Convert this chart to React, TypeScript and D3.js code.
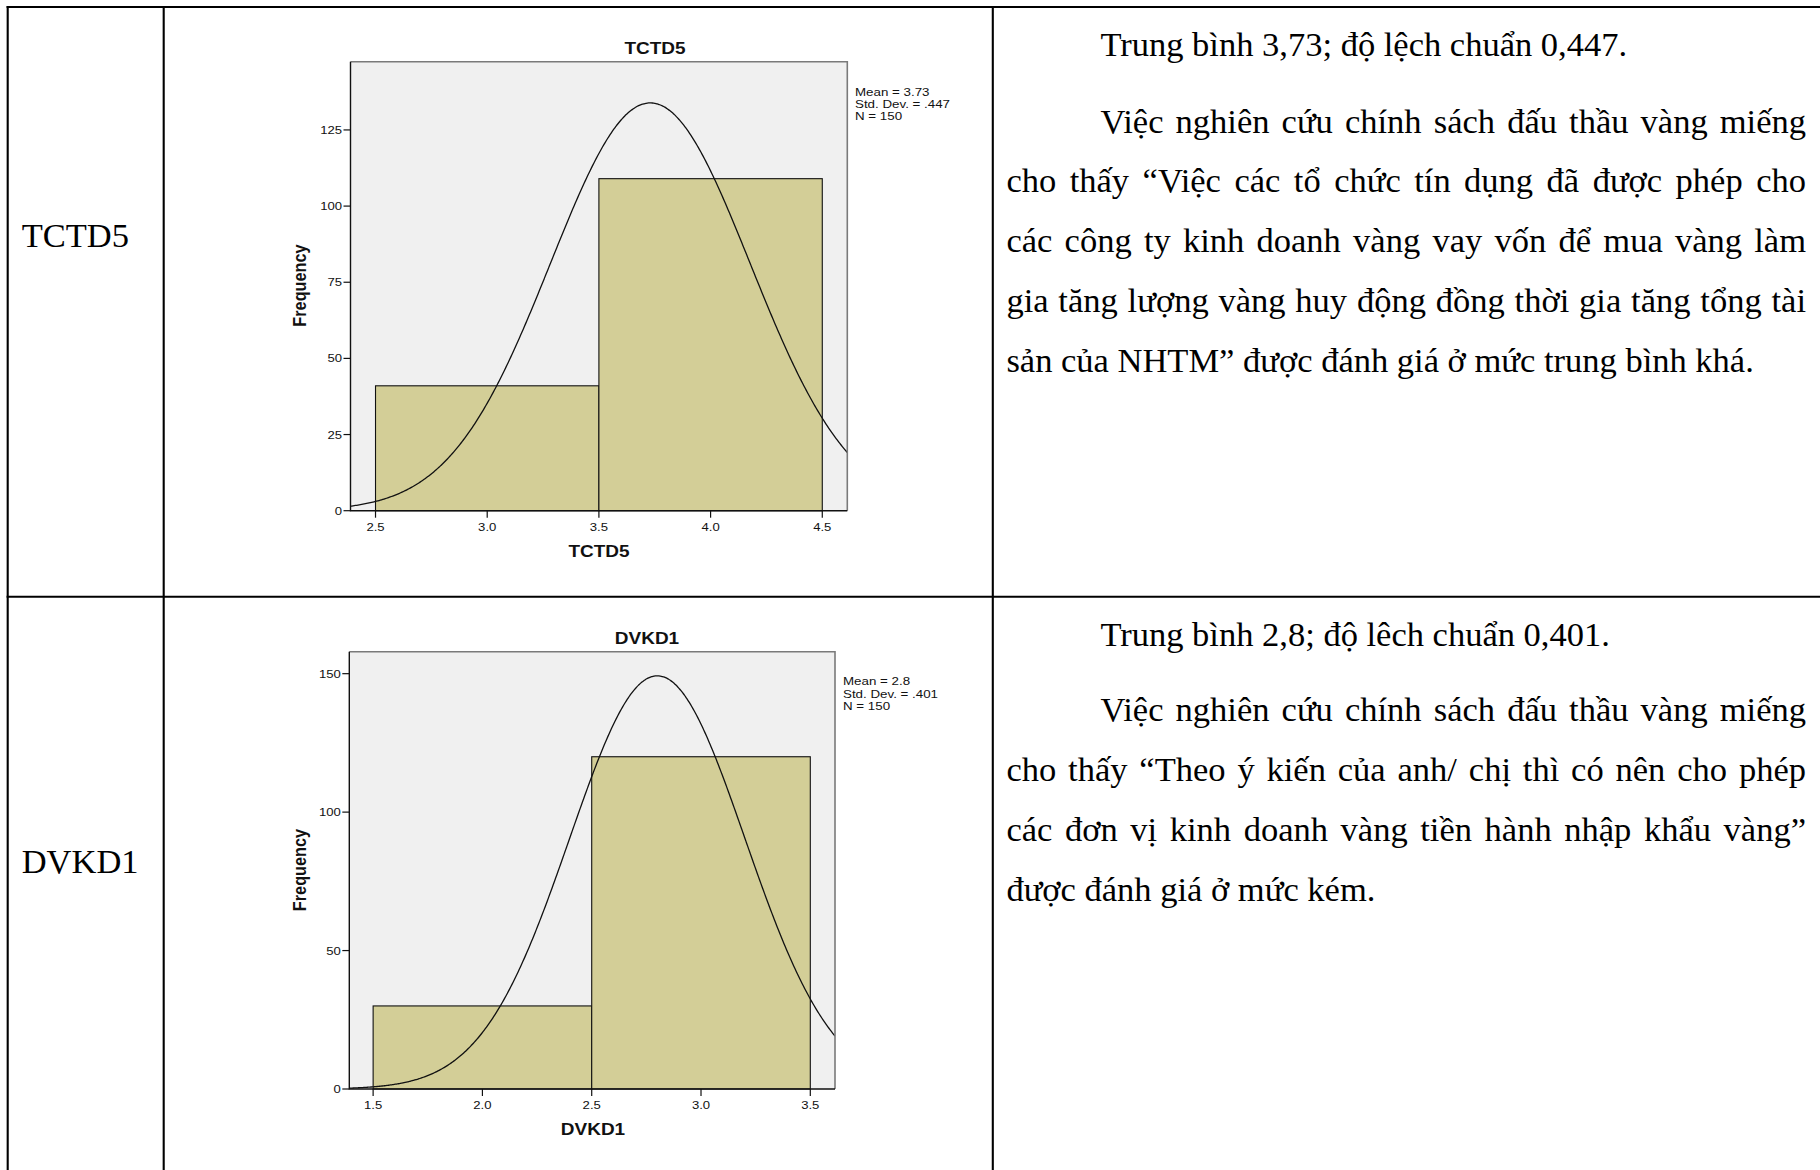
import React, { useEffect, useRef } from "react";
import * as d3 from "d3";

const W = 1820;
const H = 1170;

// ---- TCTD5 histogram data ----
const tctd5Edges = [2.5, 3.5, 4.5];
const tctd5Counts = [41, 109];
const tctd5XTicks = [2.5, 3.0, 3.5, 4.0, 4.5];
const tctd5YTicks = [0, 25, 50, 75, 100, 125];
const tctd5Mean = 3.73;
const tctd5Sd = 0.447;
const tctd5N = 150;
const tctd5Legend = ["Mean = 3.73", "Std. Dev. = .447", "N = 150"];

// ---- DVKD1 histogram data ----
const dvkd1Edges = [1.5, 2.5, 3.5];
const dvkd1Counts = [30, 120];
const dvkd1XTicks = [1.5, 2.0, 2.5, 3.0, 3.5];
const dvkd1YTicks = [0, 50, 100, 150];
const dvkd1Mean = 2.8;
const dvkd1Sd = 0.401;
const dvkd1N = 150;
const dvkd1Legend = ["Mean = 2.8", "Std. Dev. = .401", "N = 150"];

// ---- table text ----
const rowLabels = ["TCTD5", "DVKD1"];
const row1Lines = [
  "Trung bình 3,73; độ lệch chuẩn 0,447.",
  "Việc nghiên cứu chính sách đấu thầu vàng miếng",
  "cho thấy “Việc các tổ chức tín dụng đã được phép cho",
  "các công ty kinh doanh vàng vay vốn để mua vàng làm",
  "gia tăng lượng vàng huy động đồng thời gia tăng tổng tài",
  "sản của NHTM” được đánh giá ở mức trung bình khá.",
];
const row2Lines = [
  "Trung bình 2,8; độ lêch chuẩn 0,401.",
  "Việc nghiên cứu chính sách đấu thầu vàng miếng",
  "cho thấy “Theo ý kiến của anh/ chị thì có nên cho phép",
  "các đơn vị kinh doanh vàng tiền hành nhập khẩu vàng”",
  "được đánh giá ở mức kém.",
];

const SANS = "'Liberation Sans', Arial, sans-serif";
const SERIF = "'Liberation Serif', 'Times New Roman', serif";
const STRETCH = 1.15;

type HistCfg = {
  id: string;
  name: string;
  edges: number[];
  counts: number[];
  xTicks: number[];
  yTicks: number[];
  mean: number;
  sd: number;
  n: number;
  legend: string[];
  xDomain: [number, number];
  yDomain: [number, number];
  frame: { x0: number; x1: number; y0: number; y1: number };
  title: [number, number];
  xLabel: [number, number];
  yLabel: [number, number];
  legendPos: [number, number];
};

const charts: HistCfg[] = [
  {
    id: "tctd5",
    name: "TCTD5",
    edges: tctd5Edges,
    counts: tctd5Counts,
    xTicks: tctd5XTicks,
    yTicks: tctd5YTicks,
    mean: tctd5Mean,
    sd: tctd5Sd,
    n: tctd5N,
    legend: tctd5Legend,
    xDomain: [2.388, 4.612],
    yDomain: [0, 147.4],
    frame: { x0: 350.5, x1: 847.3, y0: 61.7, y1: 510.7 },
    title: [655, 47.5],
    xLabel: [599, 551],
    yLabel: [300, 285.5],
    legendPos: [855, 91.5],
  },
  {
    id: "dvkd1",
    name: "DVKD1",
    edges: dvkd1Edges,
    counts: dvkd1Counts,
    xTicks: dvkd1XTicks,
    yTicks: dvkd1YTicks,
    mean: dvkd1Mean,
    sd: dvkd1Sd,
    n: dvkd1N,
    legend: dvkd1Legend,
    xDomain: [1.391, 3.613],
    yDomain: [0, 157.9],
    frame: { x0: 349.3, x1: 835, y0: 651.8, y1: 1089 },
    title: [647, 637.5],
    xLabel: [593, 1128.5],
    yLabel: [299.5, 870],
    legendPos: [843, 681.4],
  },
];

function stretchedText(
  g: d3.Selection<SVGGElement, unknown, null, undefined>,
  x: number,
  y: number,
  str: string,
  size: number,
  anchor: string,
  bold = false,
  rotate = 0
) {
  return g
    .append("text")
    .attr(
      "transform",
      `translate(${x},${y}) scale(${STRETCH},1)` + (rotate ? ` rotate(${rotate})` : "")
    )
    .attr("font-family", SANS)
    .attr("font-size", size)
    .attr("font-weight", bold ? "bold" : "normal")
    .attr("text-anchor", anchor)
    .attr("fill", "#111")
    .text(str);
}

function drawHistogram(
  root: d3.Selection<SVGSVGElement, unknown, null, undefined>,
  cfg: HistCfg
) {
  const g = root.append("g");
  const { frame } = cfg;
  const x = d3.scaleLinear().domain(cfg.xDomain).range([frame.x0, frame.x1]);
  const y = d3.scaleLinear().domain(cfg.yDomain).range([frame.y1, frame.y0]);

  // plot area
  g.append("rect")
    .attr("x", frame.x0)
    .attr("y", frame.y0)
    .attr("width", frame.x1 - frame.x0)
    .attr("height", frame.y1 - frame.y0)
    .attr("fill", "#F0F0F0");

  g.append("clipPath")
    .attr("id", `clip-${cfg.id}`)
    .append("rect")
    .attr("x", frame.x0)
    .attr("y", frame.y0)
    .attr("width", frame.x1 - frame.x0)
    .attr("height", frame.y1 - frame.y0);

  // bars
  const bins = cfg.counts.map((c, i) => ({ x0: cfg.edges[i], x1: cfg.edges[i + 1], c }));
  g.selectAll("rect.bar")
    .data(bins)
    .join("rect")
    .attr("class", "bar")
    .attr("x", (d) => x(d.x0))
    .attr("y", (d) => y(d.c))
    .attr("width", (d) => x(d.x1) - x(d.x0))
    .attr("height", (d) => y(0) - y(d.c))
    .attr("fill", "#D3CE97")
    .attr("stroke", "#111")
    .attr("stroke-width", 1.1);

  // fitted normal curve: n * bin width * density
  const binWidth = cfg.edges[1] - cfg.edges[0];
  const density = (v: number) =>
    (cfg.n * binWidth * Math.exp(-0.5 * ((v - cfg.mean) / cfg.sd) ** 2)) /
    (cfg.sd * Math.sqrt(2 * Math.PI));
  const samples = d3.range(0, 401).map(
    (i) => cfg.xDomain[0] + ((cfg.xDomain[1] - cfg.xDomain[0]) * i) / 400
  );
  const line = d3
    .line<number>()
    .x((v) => x(v))
    .y((v) => y(density(v)))
    .curve(d3.curveBasis);
  g.append("path")
    .attr("d", line(samples) || "")
    .attr("fill", "none")
    .attr("stroke", "#111")
    .attr("stroke-width", 1.3)
    .attr("clip-path", `url(#clip-${cfg.id})`);

  // frame: grey top/right, black axes left/bottom
  g.append("path")
    .attr("d", `M${frame.x0},${frame.y0}H${frame.x1}V${frame.y1}`)
    .attr("fill", "none")
    .attr("stroke", "#7a7a7a")
    .attr("stroke-width", 1.6);
  g.append("path")
    .attr("d", `M${frame.x0},${frame.y0}V${frame.y1}H${frame.x1}`)
    .attr("fill", "none")
    .attr("stroke", "#111")
    .attr("stroke-width", 1.4);

  // y ticks
  cfg.yTicks.forEach((t) => {
    g.append("line")
      .attr("x1", frame.x0 - 7)
      .attr("x2", frame.x0)
      .attr("y1", y(t))
      .attr("y2", y(t))
      .attr("stroke", "#111")
      .attr("stroke-width", 1.2);
    stretchedText(g, frame.x0 - 8.5, y(t) + 4, String(t), 11.4, "end");
  });

  // x ticks
  cfg.xTicks.forEach((t) => {
    g.append("line")
      .attr("x1", x(t))
      .attr("x2", x(t))
      .attr("y1", frame.y1)
      .attr("y2", frame.y1 + 7)
      .attr("stroke", "#111")
      .attr("stroke-width", 1.2);
    stretchedText(g, x(t), frame.y1 + 20, d3.format(".1f")(t), 11.4, "middle");
  });

  // titles
  stretchedText(g, cfg.title[0], cfg.title[1] + 6, cfg.name, 16.5, "middle", true);
  stretchedText(g, cfg.xLabel[0], cfg.xLabel[1] + 6, cfg.name, 16.5, "middle", true);
  stretchedText(g, cfg.yLabel[0] + 6, cfg.yLabel[1], "Frequency", 16.3, "middle", true, -90);

  // statistics legend
  cfg.legend.forEach((s, i) => {
    stretchedText(g, cfg.legendPos[0], cfg.legendPos[1] + 4 + i * 12.1, s, 11.6, "start");
  });
}

type TextLine = { text: string; x: number; y: number; justify: boolean };

function layoutRow(lines: string[], firstBaseline: number, gaps: number[]): TextLine[] {
  const left = 1006.4;
  const indent = 1100.4;
  let y = firstBaseline;
  return lines.map((t, i) => {
    if (i > 0) y += gaps[Math.min(i - 1, gaps.length - 1)];
    const x = i <= 1 ? indent : left;
    const justify = i >= 1 && i < lines.length - 1;
    return { text: t, x, y, justify };
  });
}

export default function App() {
  const ref = useRef<SVGSVGElement | null>(null);

  useEffect(() => {
    if (!ref.current) return;
    const svg = d3.select(ref.current);
    svg.selectAll("*").remove();

    svg.append("rect").attr("width", W).attr("height", H).attr("fill", "#fff");

    // table grid
    const grid = svg.append("g").attr("stroke", "#000").attr("stroke-width", 2.1);
    grid.append("line").attr("x1", 6.6).attr("x2", W).attr("y1", 7).attr("y2", 7);
    grid.append("line").attr("x1", 6.6).attr("x2", W).attr("y1", 596.7).attr("y2", 596.7);
    [7.7, 163.7, 992.8].forEach((cx) =>
      grid.append("line").attr("x1", cx).attr("x2", cx).attr("y1", 6).attr("y2", H)
    );

    // first-column labels
    const labelBase = [246.7, 873];
    rowLabels.forEach((s, i) => {
      svg
        .append("text")
        .attr("x", 21.7)
        .attr("y", labelBase[i])
        .attr("font-family", SERIF)
        .attr("font-size", 34.5)
        .attr("fill", "#000")
        .text(s);
    });

    charts.forEach((c) => drawHistogram(svg, c));

    // justified commentary paragraphs
    const rightEdge = 1806;
    const allLines = [
      ...layoutRow(row1Lines, 56, [76.6, 59.8]),
      ...layoutRow(row2Lines, 646, [74.5, 60.2]),
    ];
    allLines.forEach((ln) => {
      const t = svg
        .append("text")
        .attr("x", ln.x)
        .attr("y", ln.y)
        .attr("font-family", SERIF)
        .attr("font-size", 34.5)
        .attr("fill", "#000")
        .style("white-space", "pre")
        .text(ln.text);
      if (ln.justify) {
        const node = t.node() as SVGTextElement;
        const natural = node.getComputedTextLength();
        const spaces = (ln.text.match(/ /g) || []).length;
        if (spaces > 0) {
          t.attr("word-spacing", (rightEdge - ln.x - natural) / spaces);
        }
      }
    });
  }, []);

  return (
    <svg
      ref={ref}
      width={W}
      height={H}
      style={{ position: "absolute", left: 0, top: 0, display: "block" }}
    />
  );
}
